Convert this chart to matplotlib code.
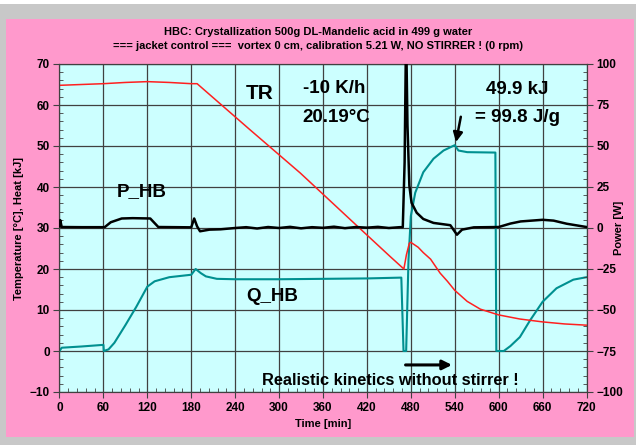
import matplotlib
matplotlib.use("Agg")
import matplotlib.pyplot as plt
from matplotlib.patches import Rectangle
from matplotlib.ticker import MultipleLocator

plt.rcParams['font.family'] = ['Liberation Sans', 'DejaVu Sans']
plt.rcParams['font.weight'] = 'bold'

# TR reactor temperature [°C]
TR_T = [0, 30, 60, 90, 120, 150, 180, 188, 260, 329, 400, 452, 470.5, 474, 478, 480,
        490, 497, 507, 520, 530, 540, 557, 575, 600, 629, 660, 690, 720]
TR_V = [64.8, 65.0, 65.2, 65.5, 65.7, 65.5, 65.2, 65.2, 54.0, 43.4, 31.6, 23.0, 20.0, 23.5, 26.3, 26.5,
        25.3, 24.0, 22.4, 19.0, 17.0, 14.8, 12.1, 10.2, 8.8, 7.8, 7.1, 6.6, 6.3]

# Q_HB heat [kJ]
Q_T = [0, 3, 30, 60, 60.5, 67, 75, 90, 105, 120, 130, 150, 180, 186, 193, 200, 215, 240,
       300, 360, 420, 467, 470, 473.6, 476.8, 480, 486, 497, 511, 524.7, 540, 545, 557,
       595.5, 596.8, 607, 616, 629, 643, 660, 679, 702, 720]
Q_V = [0.0, 0.8, 1.1, 1.5, 0.0, 0.4, 2.0, 6.3, 10.8, 15.7, 17.0, 18.0, 18.6, 20.0, 19.0, 18.2, 17.6, 17.5,
       17.5, 17.6, 17.7, 17.9, 0.0, 0.0, 22.2, 32.9, 38.6, 43.6, 46.9, 48.9, 50.2, 48.9, 48.5,
       48.4, 0.0, 0.0, 1.2, 3.4, 7.5, 12.0, 15.3, 17.4, 18.0]

# P_HB power [W]
P_T = [0, 1, 3, 30, 60, 62, 70, 85, 100, 124, 135, 160, 180, 184, 188, 192, 205, 220, 240,
       255, 270, 285, 300, 315, 330, 345, 360, 375, 390, 405, 420, 435, 450, 465, 469,
       471.5, 473, 474, 475.4, 478, 481, 488, 497, 511, 534, 543, 550, 566, 600, 616,
       630, 660, 675, 693, 720]
P_V = [1.0, 4.8, 0.6, 0.5, 0.5, 0.6, 3.5, 5.8, 6.0, 5.8, 0.6, 0.5, 0.4, 5.8, 1.0, -2.0, -1.0, -0.8, 0.0,
       0.5, -0.3, 0.6, 0.0, 0.7, -0.2, 0.5, 0.1, 0.8, -0.1, 0.6, 0.2, 0.7, 0.0, 0.5, 0.5,
       40.0, 100.0, 106.0, 62.8, 25.7, 15.4, 9.3, 5.5, 3.1, 1.7, -4.1, -1.0, 0.4, 0.6, 2.7,
       4.0, 5.0, 4.5, 2.6, 0.6]

RED = '#FF2020'
TEAL = '#009090'

fig = plt.figure(figsize=(6.36, 4.45), dpi=100)
fig.patch.set_facecolor('#C8C8C8')
fig.patches.append(Rectangle((0, 1 - 4 / 445), 1, 4 / 445, transform=fig.transFigure,
                             facecolor='white', edgecolor='none', zorder=-2))
fig.patches.append(Rectangle((6 / 636, 1 - 437 / 445), 628 / 636, 418 / 445, transform=fig.transFigure,
                             facecolor='#FF99CC', edgecolor='none', zorder=-1))

ax = fig.add_axes([59.5 / 636, 1 - 392 / 445, 527 / 636, 328 / 445])
ax.set_facecolor('#CCFFFF')
ax.set_xlim(0, 720)
ax.set_ylim(-10, 70)
ax.xaxis.set_major_locator(MultipleLocator(60))
ax.xaxis.set_minor_locator(MultipleLocator(12))
ax.yaxis.set_major_locator(MultipleLocator(10))
ax.yaxis.set_minor_locator(MultipleLocator(2))
ax.grid(True, which='major', color='#404040', lw=0.9)
ax.set_axisbelow(True)

ax.plot(Q_T, Q_V, color=TEAL, lw=1.5, zorder=3)
ax.plot(TR_T, TR_V, color=RED, lw=1.1, zorder=3)

ax2 = ax.twinx()
ax2.set_ylim(-100, 100)
ax2.yaxis.set_major_locator(MultipleLocator(25))
ax2.yaxis.set_minor_locator(MultipleLocator(5))
ax2.plot(P_T, P_V, color='black', lw=1.8, zorder=3)

for a in (ax, ax2):
    for s in a.spines.values():
        s.set_color('#404040')
    a.tick_params(which='major', direction='out', length=4, width=0.8, color='#404040',
                  labelsize=8.5, pad=3)
    a.tick_params(which='minor', direction='in', length=3, width=0.6, color='#404040')
    for lab in a.get_xticklabels() + a.get_yticklabels():
        lab.set_fontweight('bold')

ax.set_xlabel('Time [min]', fontsize=8, fontweight='bold', labelpad=4)
ax.set_ylabel('Temperature [°C], Heat [kJ]', fontsize=8, fontweight='bold')
ax.yaxis.set_label_coords(-0.068, 0.5)
ax2.set_ylabel('Power [W]', fontsize=8, fontweight='bold')
ax2.yaxis.set_label_coords(1.052, 0.5)

fig.text(0.5, 1 - 32 / 445, 'HBC: Crystallization 500g DL-Mandelic acid in 499 g water',
         ha='center', va='center', fontsize=8, fontweight='bold')
fig.text(0.5, 1 - 46 / 445, '=== jacket control ===  vortex 0 cm, calibration 5.21 W, NO STIRRER ! (0 rpm)',
         ha='center', va='center', fontsize=8, fontweight='bold')

big = dict(fontsize=13.5, fontweight='bold', zorder=5)
ax.text(273, 62.7, 'TR', ha='center', va='center', fontsize=15, fontweight='bold', zorder=5)
ax.text(332, 64.0, '-10 K/h', ha='left', va='center', **big)
ax.text(332, 56.9, '20.19°C', ha='left', va='center', **big)
ax.text(626, 63.8, '49.9 kJ', ha='center', va='center', **big)
ax.text(626, 56.9, '= 99.8 J/g', ha='center', va='center', **big)
ax.text(112, 39.0, 'P_HB', ha='center', va='center', **big)
ax.text(291, 13.4, 'Q_HB', ha='center', va='center', **big)
ax.text(452, -7.3, 'Realistic kinetics without stirrer !', ha='center', va='center',
        fontsize=11.8, fontweight='bold', zorder=5)

ax.annotate('', xy=(541, 50.3), xytext=(549, 57.8),
            arrowprops=dict(arrowstyle='-|>', color='black', lw=1.8, mutation_scale=14), zorder=5)
ax.annotate('', xy=(540, -3.4), xytext=(469, -3.4),
            arrowprops=dict(arrowstyle='-|>', color='black', lw=2.2, mutation_scale=14), zorder=5)

fig.savefig('out.png', dpi=100, facecolor=fig.get_facecolor())
